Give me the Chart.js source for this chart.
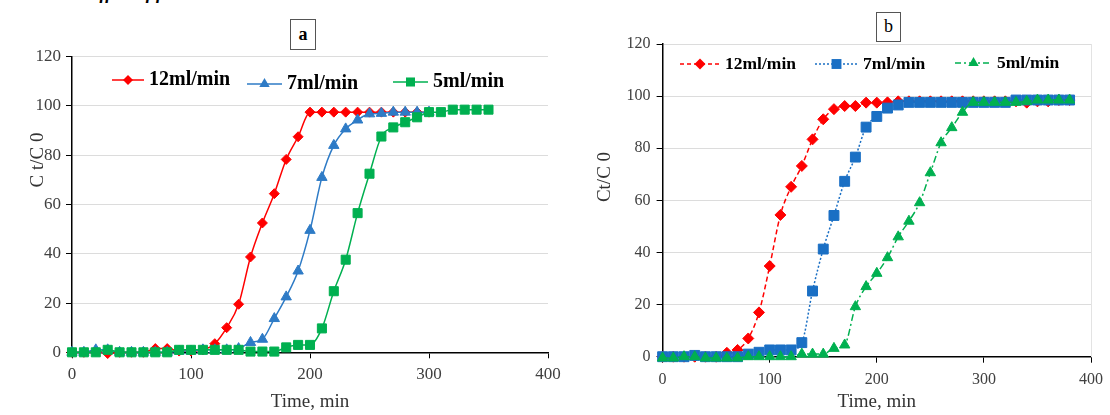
<!DOCTYPE html>
<html>
<head>
<meta charset="utf-8">
<script src="https://cdn.jsdelivr.net/npm/chart.js@4.4.0/dist/chart.umd.min.js"></script>
<style>
  body { margin: 0; width: 1110px; height: 415px; background: #fff; position: relative; overflow: hidden; font-family: "Liberation Serif", serif; }
  canvas { position: absolute; top: 0; }
  #chartA { left: 0; }
  #chartB { left: 580px; }
  .tag { position: absolute; box-sizing: border-box; border: 1.5px solid #555; background: #fff; text-align: center; font-size: 18px; color: #000; }
  .cut { position: absolute; left: 0; top: 0; width: 400px; height: 5px; overflow: hidden; }
  .cut span { position: absolute; left: 58px; top: -17px; font: italic bold 18px/20px "Liberation Serif", serif; white-space: nowrap; }
</style>
</head>
<body>
<div class="cut"><span>The effect of flow rate</span></div>
<canvas id="chartA" width="570" height="415"></canvas>
<canvas id="chartB" width="530" height="415"></canvas>
<div class="tag" style="left:290px; top:19px; width:26px; height:31px; line-height:28px; font-weight:bold;">a</div>
<div class="tag" style="left:876px; top:12px; width:25px; height:30px; line-height:27px;">b</div>
<script>
// --- data (time in min, Ct/C0 in %) ---
const seriesNames = ["12ml/min", "7ml/min", "5ml/min"];

// panel a
const time12A = [0,10,20,30,40,50,60,70,80,90,100,110,120,130,140,150,160,170,180,190,200,210,220,230,240,250,260,270,280,290,300];
const flow12A = [0,0,0.5,-0.5,0,0,0,1.5,1.5,0.5,0.5,1,3.5,10,19.5,38.7,52.5,64.4,78.3,87.5,97.5,97.5,97.5,97.5,97.5,97.5,97.5,97.5,97.5,97.5,97.5];
const time7A = time12A;
const flow7A = [0,0,1,1,0,0,0,0,0,0.5,0.5,1,1,1,1.5,4,5.3,13.7,22.5,33,49.5,71,84,90.7,94.3,96.8,97,97.5,97.5,97.5,97.5];
const time5A = [0,10,20,30,40,50,60,70,80,90,100,110,120,130,140,150,160,170,180,190,200,210,220,230,240,250,260,270,280,290,300,310,320,330,340,350];
const flow5A = [0,0,0,1,0,0,0,0,0,1,1,1,1,1,1,0.3,0.3,0.3,2,3,3,9.7,24.8,37.6,56.5,72.5,87.6,91.3,93.4,95.4,97.5,97.5,98.5,98.5,98.5,98.5];

// panel b
const timeB = [0,10,20,30,40,50,60,70,80,90,100,110,120,130,140,150,160,170,180,190,200,210,220,230,240,250,260,270,280,290,300,310,320,330,340,350,360,370,380];
const flow12B = [0,0,0,0,0,0,1.5,2.6,7,17,34.8,54.4,65.2,73.2,83.4,91.1,95,96.2,96.2,97.5,97.5,97.6,98,98,98,98,98,98,98,98,98,98,98,98,97.5,98,98,98.5,98.5];
const flow7B = [0,0,0,0.5,0,0,0,0,1,1.7,2.6,2.6,2.6,5.4,25.2,41.3,54.2,67.3,76.6,88.1,92.2,95.4,96.6,97.6,97.6,97.6,97.6,97.6,97.6,97.6,97.6,97.6,97.6,98.5,98.5,98.5,98.5,98.5,98.5];
const flow5B = [-0.5,-0.5,0,0,-0.5,-0.5,-0.5,-0.5,0,0,0,0,0,1,1,1,3.2,4.5,19.2,26.9,32,38,46,52,59.1,70.6,82.1,87.9,93.8,97.6,97.6,97.6,97.6,97.6,98,98.5,98.5,98.5,98.5];

const xMax = 400, xStep = 100;
const yMax = 120, yStep = 20;

const RED = "#FF0000", BLUE_A = "#2E7BC6", BLUE_B = "#1A6FC4", GREEN = "#00B050";
const SERIF = '"Liberation Serif", "Times New Roman", serif';

function pts(xs, ys) {
  return ys.map((y, i) => ({ x: xs[i], y }));
}

function drawMarker(g, shape, x, y, r) {
  g.beginPath();
  if (shape === "rectRot") {
    g.moveTo(x, y - r); g.lineTo(x + r, y); g.lineTo(x, y + r); g.lineTo(x - r, y);
  } else if (shape === "triangle") {
    g.moveTo(x, y - r);
    g.lineTo(x + r * Math.sin(Math.PI / 3), y + r / 2);
    g.lineTo(x - r * Math.sin(Math.PI / 3), y + r / 2);
  } else {
    const s = r * Math.SQRT1_2;
    g.rect(x - s, y - s, 2 * s, 2 * s);
  }
  g.closePath();
  g.fill();
}

// small canvas with line + marker, used as the legend symbol
function legendSample(color, dash, shape, r, w) {
  const c = document.createElement("canvas");
  c.width = w; c.height = 18;
  const g = c.getContext("2d");
  g.strokeStyle = color; g.fillStyle = color; g.lineWidth = 1.5;
  g.setLineDash(dash);
  g.beginPath(); g.moveTo(0, 9); g.lineTo(w, 9); g.stroke();
  g.setLineDash([]);
  drawMarker(g, shape, w / 2, 9, r);
  return c;
}

// legend inside the plot + y title placed like the original figure
const panelDecor = {
  id: "panelDecor",
  afterDraw(chart, args, opts) {
    const ctx = chart.ctx;
    ctx.save();
    ctx.font = "bold " + opts.fontSize + "px " + SERIF;
    ctx.fillStyle = "#000";
    ctx.textBaseline = "middle";
    chart.data.datasets.forEach((ds, i) => {
      const [x, y] = opts.pos[i];
      const img = opts.samples[i];
      ctx.drawImage(img, x, y - img.height / 2);
      ctx.fillText(ds.label, x + img.width + opts.gap, y);
    });
    ctx.translate(opts.yTitleAt[0], opts.yTitleAt[1]);
    ctx.rotate(-Math.PI / 2);
    ctx.font = "19px " + SERIF;
    ctx.fillStyle = "#333";
    ctx.textAlign = "center";
    ctx.fillText(opts.yTitle, 0, 0);
    ctx.restore();
  }
};

function series(label, data, color, shape, r, dash, order) {
  return {
    label, data,
    borderColor: color, backgroundColor: color,
    borderWidth: 1.5, borderDash: dash,
    pointStyle: shape, pointRadius: r, pointHoverRadius: r,
    pointBorderWidth: 1,
    cubicInterpolationMode: "monotone",
    clip: false, order
  };
}

function drawPanel(canvasId, datasets, decor, p) {
  const scales = {
    x: {
      type: "linear", min: 0, max: xMax,
      ticks: { stepSize: xStep, padding: p.xPad, color: "#404040", font: { family: SERIF, size: p.tickSize } },
      grid: { drawOnChartArea: false, tickLength: 6, tickColor: "#000" },
      border: { color: "#000", width: 1.5 },
      title: { display: true, text: "Time, min", color: "#333", font: { family: SERIF, size: 19 }, padding: { bottom: 1.5 } },
      afterFit: s => { s.height = p.xH; }
    },
    y: {
      min: 0, max: yMax,
      ticks: { stepSize: yStep, padding: p.yPad, color: "#404040", font: { family: SERIF, size: p.tickSize } },
      grid: { color: "#DCDCDC", lineWidth: 1, tickLength: 6, tickColor: "#000" },
      border: { color: "#000", width: 1.5 },
      afterFit: s => { s.width = p.yW; }
    }
  };
  if (p.rightFrame) {
    // faint right edge of the plot area (panel b only)
    scales.yRight = {
      position: "right", min: 0, max: yMax,
      ticks: { display: false },
      grid: { drawOnChartArea: false, drawTicks: false },
      border: { color: "#E3E3E3", width: 1 },
      afterFit: s => { s.width = 0; }
    };
  }
  new Chart(document.getElementById(canvasId), {
    type: "line",
    data: { datasets },
    plugins: [panelDecor],
    options: {
      responsive: false,
      animation: false,
      events: [],
      layout: { padding: { top: p.top, right: p.right, bottom: 0, left: 0 } },
      plugins: {
        tooltip: { enabled: false },
        legend: { display: false },
        panelDecor: decor
      },
      scales
    }
  });
}

// panel a: solid lines
drawPanel("chartA", [
  series(seriesNames[0], pts(time12A, flow12A), RED, "rectRot", 5, [], 3),
  series(seriesNames[1], pts(time7A, flow7A), BLUE_A, "triangle", 6, [], 2),
  series(seriesNames[2], pts(time5A, flow5A), GREEN, "rect", 6.4, [], 1)
], {
  samples: [
    legendSample(RED, [], "rectRot", 5, 32),
    legendSample(BLUE_A, [], "triangle", 6, 35),
    legendSample(GREEN, [], "rect", 6.4, 35)
  ],
  pos: [[112, 80], [247, 84], [393, 82]], gap: 5, fontSize: 20,
  yTitle: "C t/C 0", yTitleAt: [38, 160]
}, { top: 56.7, right: 22, xH: 62.7, yW: 72, yPad: 5, xPad: 6.5, tickSize: 17 });

// panel b: dashed lines
drawPanel("chartB", [
  series(seriesNames[0], pts(timeB, flow12B), RED, "rectRot", 5.5, [5, 3], 3),
  series(seriesNames[1], pts(timeB, flow7B), BLUE_B, "rect", 7, [2, 2], 2),
  series(seriesNames[2], pts(timeB, flow5B), GREEN, "triangle", 6, [7, 3, 2, 3], 1)
], {
  samples: [
    legendSample(RED, [4, 3], "rectRot", 5.5, 40),
    legendSample(BLUE_B, [2, 2], "rect", 7, 43),
    legendSample(GREEN, [6, 3, 2, 3], "triangle", 6, 37)
  ],
  pos: [[100, 64], [235, 64], [375, 63]], gap: 5, fontSize: 17.5,
  yTitle: "Ct/C 0", yTitleAt: [25, 177]
}, { top: 44, right: 13.3, xH: 58.3, yW: 82.6, yPad: 6, xPad: 7, tickSize: 16, rightFrame: true });
</script>
</body>
</html>
